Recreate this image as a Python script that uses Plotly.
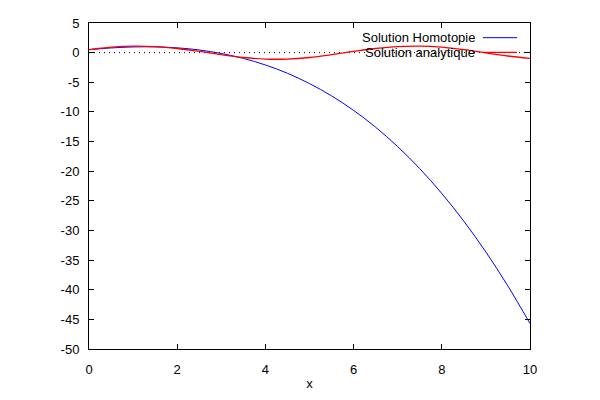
import plotly.graph_objects as go

# x sample positions (read at 0.5 steps)
x_vals = [0, 0.5, 1, 1.5, 2, 2.5, 3, 3.5, 4, 4.5, 5, 5.5, 6, 6.5, 7, 7.5, 8, 8.5, 9, 9.5, 10]

# Solution Homotopie (blue)
homotopie = [0.50, 0.79, 0.96, 0.97, 0.81, 0.45, -0.14, -0.97, -2.08, -3.48, -5.22,
             -7.29, -9.74, -12.59, -15.86, -19.57, -23.76, -28.44, -33.64, -39.39, -45.7]

# Solution analytique (red)
analytique = [0.50, 0.92, 1.11, 1.03, 0.70, 0.20, -0.35, -0.82, -1.08, -1.08, -0.82,
              -0.35, 0.20, 0.70, 1.03, 1.11, 0.92, 0.50, -0.04, -0.57, -0.96]

x_ticks = [0, 2, 4, 6, 8, 10]
x_tick_labels = ["0", "2", "4", "6", "8", "10"]
y_ticks = [5, 0, -5, -10, -15, -20, -25, -30, -35, -40, -45, -50]
y_tick_labels = ["5", "0", "-5", "-10", "-15", "-20", "-25", "-30", "-35", "-40", "-45", "-50"]

series_names = ["Solution Homotopie", "Solution analytique"]

font = dict(family="Liberation Sans, Arial, sans-serif", size=13, color="black")

fig = go.Figure()
fig.add_trace(go.Scatter(x=x_vals, y=homotopie, mode="lines", name=series_names[0],
                         line=dict(color="#0000ff", width=1, shape="spline"),
                         showlegend=False))
fig.add_trace(go.Scatter(x=x_vals, y=analytique, mode="lines", name=series_names[1],
                         line=dict(color="#ff0000", width=1.3, shape="spline"),
                         showlegend=False))

# dotted zero axis
fig.add_shape(type="line", xref="x", yref="y", x0=0, x1=10, y0=0, y1=0,
              line=dict(color="black", width=1, dash="1px,4px"), layer="below")

# gnuplot-style legend (text right-aligned, sample on right)
leg_y = [31, 46]
leg_colors = ["#0000ff", "#ff0000"]
leg_widths = [1, 1.3]
for name, yy, col, w in zip(series_names, leg_y, leg_colors, leg_widths):
    fig.add_annotation(xref="paper", yref="paper", x=(477 - 89) / 441, y=(349 - yy) / 333,
                       text=name, showarrow=False, xanchor="right", yanchor="middle",
                       font=font)
    fig.add_shape(type="line", xref="paper", yref="paper",
                  x0=(483 - 89) / 441, x1=(517 - 89) / 441,
                  y0=(349 - yy) / 333, y1=(349 - yy) / 333,
                  line=dict(color=col, width=w))

axis_common = dict(showgrid=False, zeroline=False, showline=True, linecolor="black",
                   linewidth=1, mirror="allticks", ticks="inside", ticklen=5,
                   tickcolor="black", tickwidth=1, tickfont=font)

fig.update_xaxes(range=[0, 10], tickvals=x_ticks, ticktext=x_tick_labels,
                 ticklabelstandoff=8,
                 title=dict(text="x", font=font, standoff=3), **axis_common)
fig.update_yaxes(range=[-50, 5], tickvals=y_ticks, ticktext=y_tick_labels,
                 ticklabelstandoff=6, **axis_common)

# page body has an 8px margin; compensate so the plot area lands at 89..530 x 16..349
fig.update_layout(width=600, height=400, margin=dict(l=81, r=78, t=8, b=59),
                  plot_bgcolor="white", paper_bgcolor="white", font=font)

fig.write_html("out.html")
